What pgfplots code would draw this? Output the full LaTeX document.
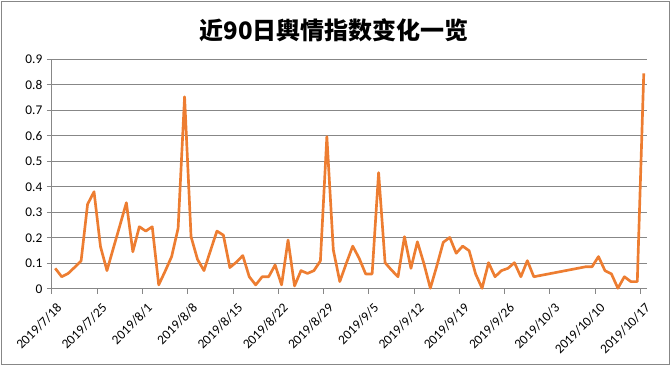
\documentclass[border=0pt]{standalone}
\usepackage{fontspec}
\setmainfont{Carlito}
\newfontfamily\cjk{Noto Sans CJK SC}
\usepackage{pgfplots}
\pgfplotsset{compat=1.18}
\definecolor{lineor}{HTML}{ED7D31}
\definecolor{gridg}{HTML}{878787}
\begin{document}
\begin{tikzpicture}[x=1pt,y=1pt]
\useasboundingbox (-39,-57.75) rectangle (464.25,216.75);
\draw[gridg, line width=0.75pt] (-37.9,-56.6) rectangle (463.1,215.6);
\node[font=\cjk\bfseries\fontsize{18}{22}\selectfont] at (211.5,194.25) {近90日輿情指数变化一览};
\begin{axis}[
  at={(0,0)}, anchor=south west,
  scale only axis, width=446.25pt, height=172.3pt,
  xmin=0, xmax=92, ymin=0, ymax=0.9,
  axis x line*=bottom, axis y line*=left,
  axis line style={gridg, line width=0.75pt, -},
  xtick={0,7,14,21,28,35,42,49,56,63,70,77,84,91},
  xticklabels={2019/7/18,2019/7/25,2019/8/1,2019/8/8,2019/8/15,2019/8/22,2019/8/29,2019/9/5,2019/9/12,2019/9/19,2019/9/26,2019/10/3,2019/10/10,2019/10/17},
  ytick={0,0.1,0.2,0.3,0.4,0.5,0.6,0.7,0.8,0.9},
  yticklabels={0,0.1,0.2,0.3,0.4,0.5,0.6,0.7,0.8,0.9},
  tick align=outside, major tick length=3.75pt,
  tick style={gridg, line width=0.75pt},
  ymajorgrids, grid style={gridg, line width=0.75pt},
  ticklabel style={font=\fontsize{10}{12}\selectfont, black},
  xticklabel style={xshift=8pt, yshift=-6.5pt, rotate=45, anchor=east},
  clip=false,
]
\addplot[lineor, line width=2pt, line join=round, no marks] table[x=d, y=v] {
d v
0.5 0.081
1.5 0.048
2.5 0.061
3.5 0.085
4.5 0.110
5.5 0.332
6.5 0.381
7.5 0.166
8.5 0.072
9.5 0.161
10.5 0.249
11.5 0.338
12.5 0.146
13.5 0.244
14.5 0.227
15.5 0.244
16.5 0.016
17.5 0.070
18.5 0.127
19.5 0.238
20.5 0.753
21.5 0.205
22.5 0.116
23.5 0.072
24.5 0.150
25.5 0.227
26.5 0.211
27.5 0.084
28.5 0.105
29.5 0.131
30.5 0.048
31.5 0.016
32.5 0.048
33.5 0.048
34.5 0.094
35.5 0.016
36.5 0.192
37.5 0.012
38.5 0.072
39.5 0.061
40.5 0.072
41.5 0.110
42.5 0.597
43.5 0.153
44.5 0.029
45.5 0.100
46.5 0.168
47.5 0.120
48.5 0.059
49.5 0.059
50.5 0.456
51.5 0.103
52.5 0.074
53.5 0.048
54.5 0.205
55.5 0.081
56.5 0.185
57.5 0.100
58.5 0.003
59.5 0.090
60.5 0.183
61.5 0.202
62.5 0.140
63.5 0.168
64.5 0.150
65.5 0.059
66.5 0.003
67.5 0.103
68.5 0.048
69.5 0.072
70.5 0.081
71.5 0.103
72.5 0.048
73.5 0.111
74.5 0.048
82.5 0.087
83.5 0.087
84.5 0.127
85.5 0.072
86.5 0.059
87.5 0.003
88.5 0.048
89.5 0.029
90.5 0.029
91.5 0.845
};
\end{axis}
\end{tikzpicture}
\end{document}
